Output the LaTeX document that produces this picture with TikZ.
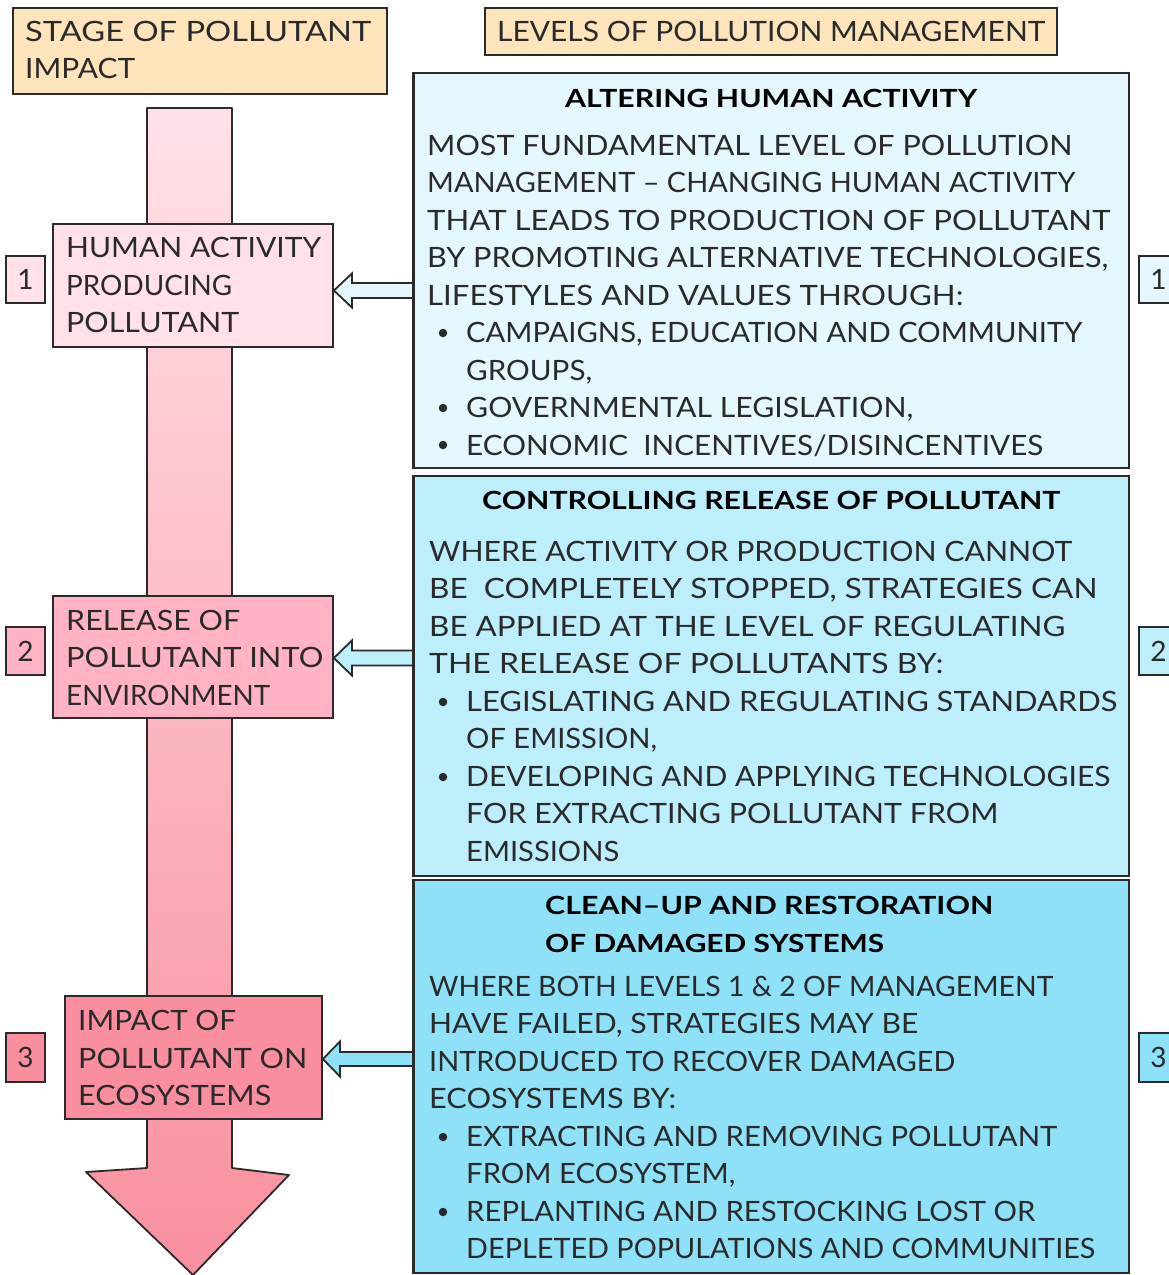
\documentclass[tikz,border=0pt]{standalone}
\usepackage{fontspec}
\setmainfont{Lato}
\usepackage{graphicx}
\usetikzlibrary{calc}
\definecolor{hdr}{HTML}{FDE4BB}
\definecolor{pinkA}{HTML}{FFE1E7}
\definecolor{pinkB}{HTML}{FFB3C4}
\definecolor{pinkC}{HTML}{F98F9E}
\definecolor{blueA}{HTML}{E3F7FD}
\definecolor{blueB}{HTML}{BDEEFB}
\definecolor{blueC}{HTML}{8FE1F8}
\definecolor{ink}{HTML}{2A2A2A}
\newcommand\fitto[2]{\resizebox{#1pt}{\height}{#2}}
\tikzset{
  box/.style={draw=ink, line width=1.8pt, inner sep=0pt, rectangle},
  body/.style={inner sep=0pt, anchor=base west, text=ink, font=\fontsize{28}{30}\selectfont},
  ttl/.style={inner sep=0pt, anchor=base west, text=black, font=\bfseries\fontsize{25}{27}\selectfont},
  bul/.style={circle, fill=ink, inner sep=0pt, minimum size=8.5pt},
  harrow/.style={draw=ink, line width=1.8pt, line join=miter},
  num/.style={box, minimum width=39, font=\fontsize{28}{30}\selectfont, text=ink},
}
\begin{document}
\begin{tikzpicture}[x=1pt,y=-1pt]
\useasboundingbox (0,0) rectangle (1169,1275);
% shaft arrow
\path[top color=pinkA, bottom color=pinkC, shading angle=0]
  (147,108) -- (232,108) -- (232,1168) -- (289,1175) -- (193,1275) -- (86,1172) -- (147,1168) -- cycle;
\draw[draw=ink, line width=1.8pt, line join=round]
  (147,108) -- (232,108) -- (232,1168) -- (289,1175) -- (193,1275) -- (86,1172) -- (147,1168) -- cycle;
% headers
\node[box, fill=hdr, minimum width=374, minimum height=86] (H1) at (200,51) {};
\node[box, fill=hdr, minimum width=572, minimum height=47] (H2) at (771,31.5) {};
% left boxes
\node[box, fill=pinkA, minimum width=280, minimum height=123] (L1) at (193,285.5) {};
\node[box, fill=pinkB, minimum width=280, minimum height=122] (L2) at (193,657) {};
\node[box, fill=pinkC, minimum width=257, minimum height=123] (L3) at (193.5,1057.5) {};
\node[num, fill=pinkA, minimum height=47] (N1) at (25.5,279.5) {1};
\node[num, fill=pinkB, minimum height=48] (N2) at (25.5,651) {2};
\node[num, fill=pinkC, minimum height=49] (N3) at (25.5,1057.5) {3};
% right boxes
\node[box, fill=blueA, minimum width=715, minimum height=395] (R1) at (771.5,270.5) {};
\node[box, fill=blueB, minimum width=715, minimum height=400] (R2) at (771.5,676) {};
\node[box, fill=blueC, minimum width=715, minimum height=393] (R3) at (771.5,1076.5) {};
\node[num, fill=blueA, minimum height=47] (M1) at (1158.5,279.5) {1};
\node[num, fill=blueB, minimum height=48] (M2) at (1158.5,651) {2};
\node[num, fill=blueC, minimum height=49] (M3) at (1158.5,1057.5) {3};
% hollow arrows
\coordinate (t1) at ($(L1.east)+(0,5)$);
\coordinate (t2) at ($(L2.east)+(0,1)$);
\coordinate (t3) at ($(L3.east)+(0,1.5)$);
\draw[harrow, fill=blueA] (t1) -- ++(18,-17) -- ++(0,9.5) -- ($(t1-|R1.west)+(0,-7.5)$) -- ($(t1-|R1.west)+(0,7.5)$) -- ($(t1)+(18,7.5)$) -- ++(0,9.5) -- cycle;
\draw[harrow, fill=blueB] (t2) -- ++(18,-17.5) -- ++(0,10) -- ($(t2-|R2.west)+(0,-7.5)$) -- ($(t2-|R2.west)+(0,7.5)$) -- ($(t2)+(18,7.5)$) -- ++(0,10) -- cycle;
\draw[harrow, fill=blueC] (t3) -- ++(17,-17.5) -- ++(0,10.5) -- ($(t3-|R3.west)+(0,-7)$) -- ($(t3-|R3.west)+(0,7)$) -- ($(t3)+(17,7)$) -- ++(0,10.5) -- cycle;
% redraw right box borders over arrow ends
\draw[draw=ink, line width=1.8pt] (R1.north west) -- (R1.south west);
\draw[draw=ink, line width=1.8pt] (R2.north west) -- (R2.south west);
\draw[draw=ink, line width=1.8pt] (R3.north west) -- (R3.south west);
% header texts
\node[body] (h1a) at (25,41) {\fitto{346}{STAGE OF POLLUTANT}};
\node[body] (h1b) at (25,78) {\fitto{110}{IMPACT}};
\node[body] (h2a) at (497,41) {\fitto{548}{LEVELS OF POLLUTION MANAGEMENT}};
% left texts
\node[body] (l1a) at (66,257) {\fitto{255}{HUMAN ACTIVITY}};
\node[body] (l1b) at (66,295) {\fitto{166}{PRODUCING}};
\node[body] (l1c) at (66,332) {\fitto{173}{POLLUTANT}};
\node[body] (l2a) at (66,630) {\fitto{174}{RELEASE OF}};
\node[body] (l2b) at (66,667) {\fitto{257}{POLLUTANT INTO}};
\node[body] (l2c) at (66,705) {\fitto{204}{ENVIRONMENT}};
\node[body] (l3a) at (78,1030) {\fitto{158}{IMPACT OF}};
\node[body] (l3b) at (78,1068) {\fitto{229}{POLLUTANT ON}};
\node[body] (l3c) at (78,1105) {\fitto{193}{ECOSYSTEMS}};
% right box 1
\node[ttl] (r1t) at (565,107) {\fitto{412}{ALTERING HUMAN ACTIVITY}};
\node[body] (r1a) at (427,155) {\fitto{645}{MOST FUNDAMENTAL LEVEL OF POLLUTION}};
\node[body] (r1b) at (427,192.5) {\fitto{648}{MANAGEMENT – CHANGING HUMAN ACTIVITY}};
\node[body] (r1c) at (427,230) {\fitto{683}{THAT LEADS TO PRODUCTION OF POLLUTANT}};
\node[body] (r1d) at (427,267.5) {\fitto{681}{BY PROMOTING ALTERNATIVE TECHNOLOGIES,}};
\node[body] (r1e) at (427,305) {\fitto{536}{LIFESTYLES AND VALUES THROUGH:}};
\node[bul] (r1f0) at (443,333) {};
\node[body] (r1f) at (466,342.5) {\fitto{616}{CAMPAIGNS, EDUCATION AND COMMUNITY}};
\node[body] (r1g) at (466,380) {\fitto{126}{GROUPS,}};
\node[bul] (r1h0) at (443,408) {};
\node[body] (r1h) at (466,417.5) {\fitto{447}{GOVERNMENTAL LEGISLATION,}};
\node[bul] (r1i0) at (443,445) {};
\node[body] (r1i) at (466,455) {\fitto{577}{ECONOMIC\ \ INCENTIVES/DISINCENTIVES}};
% right box 2
\node[ttl] (r2t) at (482,509) {\fitto{578}{CONTROLLING RELEASE OF POLLUTANT}};
\node[body] (r2a) at (429,561) {\fitto{643}{WHERE ACTIVITY OR PRODUCTION CANNOT}};
\node[body] (r2b) at (429,598.5) {\fitto{668}{BE\ \ COMPLETELY STOPPED, STRATEGIES CAN}};
\node[body] (r2c) at (429,636) {\fitto{636}{BE APPLIED AT THE LEVEL OF REGULATING}};
\node[body] (r2d) at (429,673.5) {\fitto{514}{THE RELEASE OF POLLUTANTS BY:}};
\node[bul] (r2e0) at (443,702) {};
\node[body] (r2e) at (466,711) {\fitto{651}{LEGISLATING AND REGULATING STANDARDS}};
\node[body] (r2f) at (466,748.5) {\fitto{191}{OF EMISSION,}};
\node[bul] (r2g0) at (443,777) {};
\node[body] (r2g) at (466,786) {\fitto{644}{DEVELOPING AND APPLYING TECHNOLOGIES}};
\node[body] (r2h) at (466,823.5) {\fitto{532}{FOR EXTRACTING POLLUTANT FROM}};
\node[body] (r2i) at (466,861) {\fitto{153}{EMISSIONS}};
% right box 3
\node[ttl] (r3t) at (545,914) {\fitto{448}{CLEAN–UP AND RESTORATION}};
\node[ttl] (r3u) at (545,952) {\fitto{339}{OF DAMAGED SYSTEMS}};
\node[body] (r3a) at (429,996) {\fitto{624}{WHERE BOTH LEVELS 1 \& 2 OF MANAGEMENT}};
\node[body] (r3b) at (429,1033.5) {\fitto{489}{HAVE FAILED, STRATEGIES MAY BE}};
\node[body] (r3c) at (429,1071) {\fitto{526}{INTRODUCED TO RECOVER DAMAGED}};
\node[body] (r3d) at (429,1108.5) {\fitto{247}{ECOSYSTEMS BY:}};
\node[bul] (r3e0) at (443,1137) {};
\node[body] (r3e) at (466,1146) {\fitto{591}{EXTRACTING AND REMOVING POLLUTANT}};
\node[body] (r3f) at (466,1183.5) {\fitto{269}{FROM ECOSYSTEM,}};
\node[bul] (r3g0) at (443,1212) {};
\node[body] (r3g) at (466,1221) {\fitto{569}{REPLANTING AND RESTOCKING LOST OR}};
\node[body] (r3h) at (466,1258.5) {\fitto{629}{DEPLETED POPULATIONS AND COMMUNITIES}};
\end{tikzpicture}
\end{document}
